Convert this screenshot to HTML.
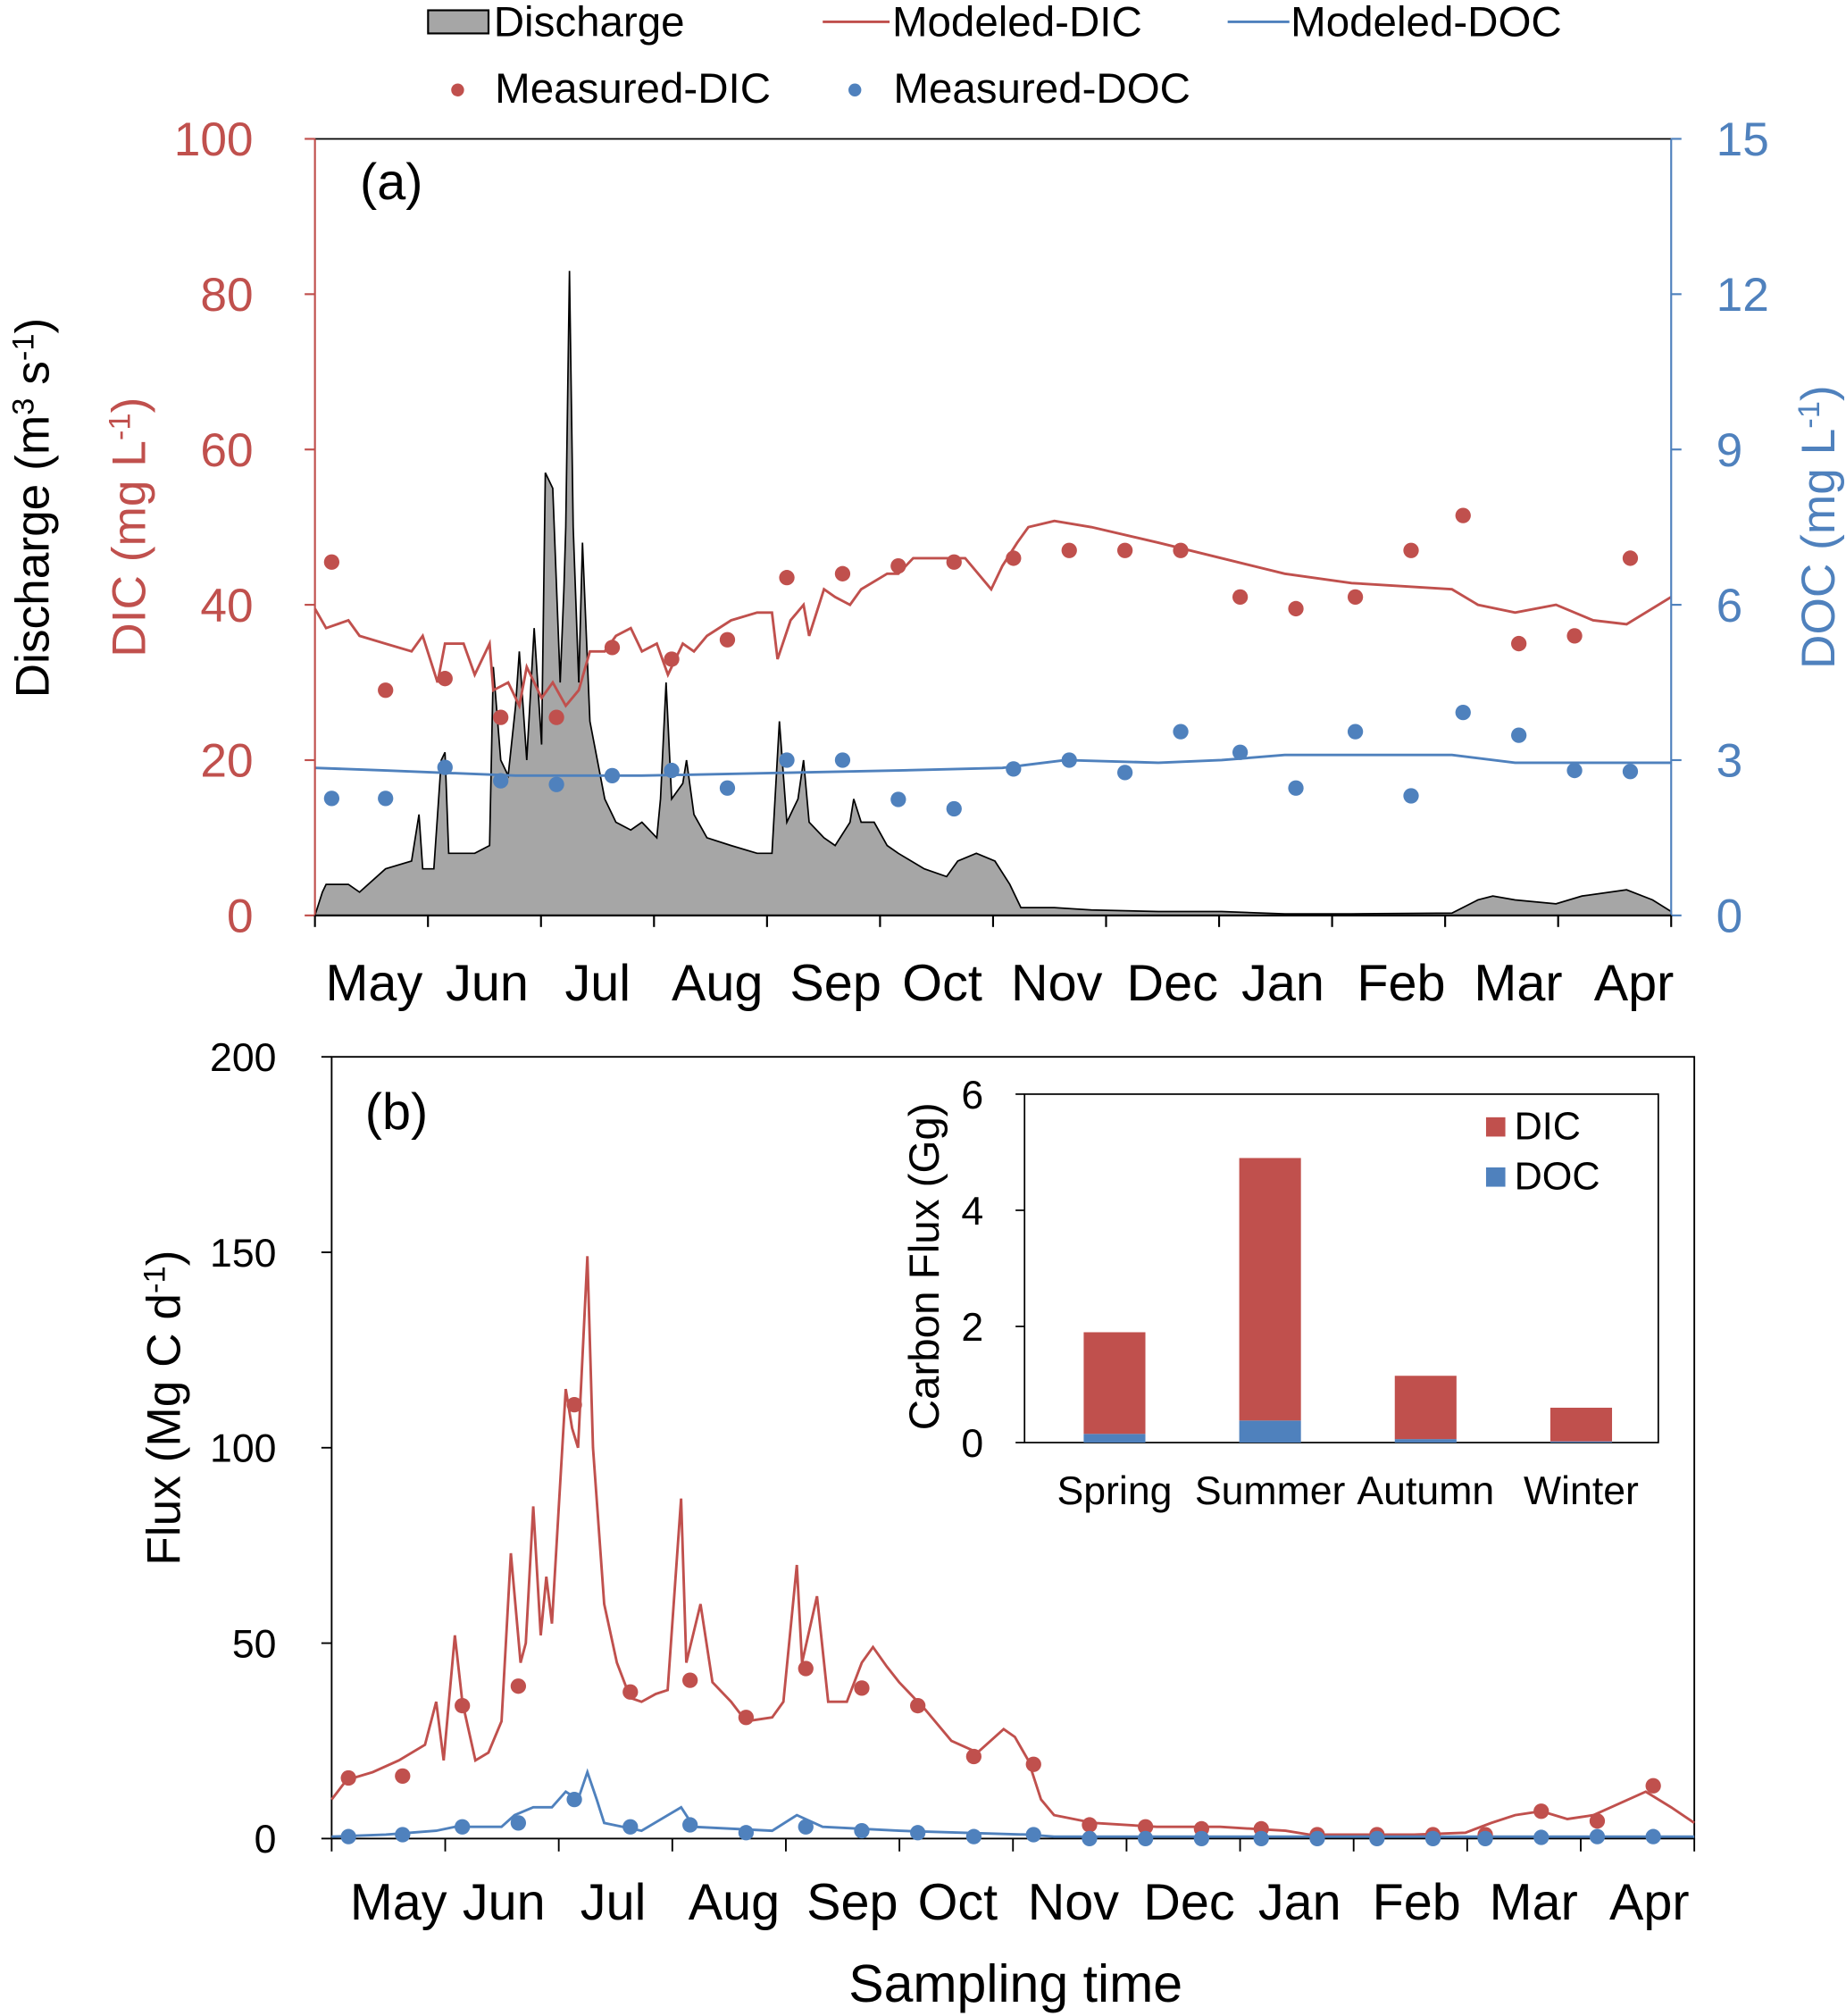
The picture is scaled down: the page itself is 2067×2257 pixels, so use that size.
<!DOCTYPE html>
<html><head><meta charset="utf-8"><style>
html,body{margin:0;padding:0;background:#fff}
svg{display:block}
text{font-family:"Liberation Sans",Arial,sans-serif}
</style></head><body>
<svg id="chart" width="2067" height="2257" viewBox="0 0 1436 1568" xmlns="http://www.w3.org/2000/svg">
<g id="legend">
 <g><rect x="333" y="8" width="47" height="18" fill="#a6a6a6" stroke="#000" stroke-width="1.5"/><text x="384" y="28" font-size="33">Discharge</text></g>
 <g><line x1="640" y1="17" x2="692" y2="17" stroke="#c0504d" stroke-width="2"/><text x="694" y="28" font-size="33">Modeled-DIC</text></g>
 <g><line x1="955" y1="17" x2="1003" y2="17" stroke="#4f81bd" stroke-width="2"/><text x="1004" y="28" font-size="33">Modeled-DOC</text></g>
 <g><circle cx="356" cy="70" r="5" fill="#c0504d"/><text x="385" y="80" font-size="33">Measured-DIC</text></g>
 <g><circle cx="665" cy="70" r="5" fill="#4f81bd"/><text x="695" y="80" font-size="33">Measured-DOC</text></g>
</g>
<g id="pa"></g>
<g id="pb"></g>
<g id="inset"></g>
</svg>
<script>
const months=["May","Jun","Jul","Aug","Sep","Oct","Nov","Dec","Jan","Feb","Mar","Apr"];
const monthLabelPosA=[291,379,465,558,650,733,822,912,998,1090,1181,1271];
const monthLabelPosB=[310,392,477,571,663,745,835,925,1011,1102,1193,1283];
const dicTicks=[0,20,40,60,80,100];
const docTicks=[0,3,6,9,12,15];
const fluxTicks=[0,50,100,150,200];
const dischargeDays=[0,2,3,9,12,19,26,28,29,32,34,35,36,43,47,48,50,52,54,55,57,59,61,62,64,66,67,67.5,68.5,69.5,71,72,74,76,78,81,85,88,92,93,94.5,96,99,100,102,105.5,112,119,123,125,127,130,131.5,133,137,140,144,145,147,150.5,154,157,164,170,173,178,183,187,190,199,209,227,244,261,279,306,313,317,323,334,341,353,360,365];
const dischargeVals=[0,3,4,4,3,6,7,13,6,6,20,21,8,8,9,32,20,18,27,34,20,37,22,57,55,30,42,50,83,50,30,48,25,20,15,12,11,12,10,15,30,15,17,20,13,10,9,8,8,25,12,15,20,12,10,9,12,15,12,12,9,8,6,5,7,8,7,4,1,1,0.7,0.5,0.5,0.2,0.2,0.3,2,2.5,2,1.5,2.5,3.3,2,0.5];
const modDicDays=[0,3,9,12,19,26,29,33,35,40,43,47,48,52,55,57,61,64,67.5,71,74,78,81,85,88,92,95,99,102,105.5,112,119,123,124.5,128,131.5,133,137,140,144,147,154,157,161,164,171,175,182,185,189,192,199,209,227,244,261,279,306,313,323,334,344,353,365];
const modDicVals=[39.5,37,38,36,35,34,36,30,35,35,31,35,29,30,27,32,28,30,27,29,34,34,36,37,34,35,31,35,34,36,38,39,39,33,38,40,36,42,41,40,42,44,44,46,46,46,46,42,45,48,50,50.8,50,48,46,44,42.8,42,40,39,40,38,37.5,41];
const modDocDays=[0,19,54,88,123,157,185,202,227,244,261,306,323,347,365];
const modDocVals=[2.85,2.8,2.7,2.7,2.75,2.8,2.85,3.0,2.95,3.0,3.1,3.1,2.95,2.95,2.95];
const sampleDays=[4.5,19,35,50,65,80,96,111,127,142,157,172,188,203,218,233,249,264,280,295,309,324,339,354];
const measDic=[45.5,29,30.5,25.5,25.5,34.5,33,35.5,43.5,44,45,45.5,46,47,47,47,41,39.5,41,47,51.5,35,36,46];
const measDoc=[2.26,2.26,2.86,2.6,2.53,2.7,2.8,2.46,3.0,3.0,2.24,2.06,2.83,3.0,2.76,3.55,3.15,2.46,3.55,2.31,3.92,3.48,2.8,2.78];
const dicFluxDays=[0,4,11,18,25,28,30,33,35,38.5,42,45.5,48,50.6,52,54,56,57.5,59,62.7,64.4,66,68.5,70,73,76.4,80,83,86.8,90,93.6,95,98.8,102,107,111,118,121,124.6,126,130,133,138,142,145,148.7,152,159,166,173,180,183,186.6,190,193.5,204,221,238,255.5,262,290,303.7,310.6,317,324,331,338,352,358.8,365];
const dicFluxVals=[10,15,17,20,24,35,20,52,35,20,22,30,73,45,50,85,52,67,55,115,105,100,149,100,60,45,36,35,37,38,87,45,60,40,35,30,31,35,70,45,62,35,35,45,49,44,40,33,25,22,28,26,20,10,6,4,3,3,2,1,1,1.5,4,6,7,5,6,12,8,4];
const docFluxDays=[0,14.5,28,33,45.5,49,54,59,62.7,66,68.5,71,73,83,93.6,97,118,124.6,131.5,152,186.6,193.5,365];
const docFluxVals=[0.5,1,2,3,3,6,8,8,12,10,17,10,4,2,8,3,2,6,3,2,1,0.5,0.5];
const measDicFlux=[15.5,16,34,39,111,37.5,40.5,31,43.5,38.5,34,21,19,3.5,3,2.5,2.5,1,1,1,1,7,4.5,13.5];
const measDocFlux=[0.5,1,3,4,10,3,3.5,1.5,3,2,1.5,0.5,1,0,0,0,0,0,0,0,0,0.3,0.5,0.5];
const seasons=["Spring","Summer","Autumn","Winter"];
const seasonDic=[1.75,4.52,1.09,0.58];
const seasonDoc=[0.15,0.38,0.06,0.02];
const insetTicks=[0,2,4,6];

const NS="http://www.w3.org/2000/svg";
function mk(p,tag,a,txt){const e=document.createElementNS(NS,tag);for(const k in a)e.setAttribute(k,a[k]);if(txt!==undefined)e.textContent=txt;p.appendChild(e);return e;}
const RED="#c0504d",BLUE="#4f81bd";

// Panel A
const pa=document.getElementById('pa');
const aX=d=>245+d/365*1055, aY=v=>712-v/100*604, aY2=v=>712-v/15*604;
let dp="M"+aX(0)+","+aY(0);
dischargeDays.forEach((d,i)=>dp+=" L"+aX(d)+","+aY(dischargeVals[i]));
dp+=" L"+aX(365)+","+aY(0)+" Z";
let area=mk(pa,'path',{d:dp,fill:"#a6a6a6",stroke:"#000","stroke-width":1.2});


let l1=mk(pa,'polyline',{points:modDicDays.map((d,i)=>aX(d)+","+aY(modDicVals[i])).join(" "),fill:"none",stroke:RED,"stroke-width":2});


let l2=mk(pa,'polyline',{points:modDocDays.map((d,i)=>aX(d)+","+aY2(modDocVals[i])).join(" "),fill:"none",stroke:BLUE,"stroke-width":2});


sampleDays.forEach((d,i)=>{
 let c=mk(pa,'circle',{cx:aX(d),cy:aY(measDic[i]),r:6,fill:RED});
 
 
 let c2=mk(pa,'circle',{cx:aX(d),cy:aY2(measDoc[i]),r:6,fill:BLUE});
 
 
});
mk(pa,'line',{x1:245,y1:108,x2:1300,y2:108,stroke:"#000","stroke-width":1.2});
mk(pa,'line',{x1:245,y1:108,x2:245,y2:712,stroke:RED,"stroke-width":1.5});
mk(pa,'line',{x1:1300,y1:108,x2:1300,y2:712,stroke:BLUE,"stroke-width":1.5});
mk(pa,'line',{x1:245,y1:712,x2:1300,y2:712,stroke:"#000","stroke-width":1.5});
dicTicks.forEach(v=>{mk(pa,'line',{x1:237,y1:aY(v),x2:245,y2:aY(v),stroke:RED,"stroke-width":1.5});
 let t=mk(pa,'text',{x:197,y:aY(v)+13,"font-size":37,fill:RED,"text-anchor":"end"},v);
 });
docTicks.forEach(v=>{mk(pa,'line',{x1:1300,y1:aY2(v),x2:1308,y2:aY2(v),stroke:BLUE,"stroke-width":1.5});
 let t=mk(pa,'text',{x:1335,y:aY2(v)+13,"font-size":37,fill:BLUE},v);
 });
for(let m=0;m<=12;m++){const x=245+m*1055/12;mk(pa,'line',{x1:x,y1:712,x2:x,y2:721,stroke:"#000","stroke-width":1.5});}
months.forEach((m,i)=>{let t=mk(pa,'text',{x:monthLabelPosA[i],y:778,"font-size":40,"text-anchor":"middle"},m);
 });
mk(pa,'text',{x:280,y:155,"font-size":40},"(a)");
let ty=mk(pa,'text',{transform:"translate(38,395) rotate(-90)","font-size":37,"text-anchor":"middle"});
ty.innerHTML='Discharge (m<tspan dy="-12" font-size="24">3</tspan><tspan dy="12"> s</tspan><tspan dy="-12" font-size="24">-1</tspan><tspan dy="12">)</tspan>';

let ty2=mk(pa,'text',{transform:"translate(113,410) rotate(-90)","font-size":37,"text-anchor":"middle",fill:RED});
ty2.innerHTML='DIC (mg L<tspan dy="-12" font-size="24">-1</tspan><tspan dy="12">)</tspan>';

let ty3=mk(pa,'text',{transform:"translate(1427,410) rotate(-90)","font-size":37,"text-anchor":"middle",fill:BLUE});
ty3.innerHTML='DOC (mg L<tspan dy="-12" font-size="24">-1</tspan><tspan dy="12">)</tspan>';


// Panel B
const pb=document.getElementById('pb');
const bX=d=>258+d/365*1060, bY=v=>1430-v/200*608;
mk(pb,'rect',{x:258,y:822,width:1060,height:608,fill:"none",stroke:"#000","stroke-width":1.3});
fluxTicks.forEach(v=>{mk(pb,'line',{x1:250,y1:bY(v),x2:258,y2:bY(v),stroke:"#000","stroke-width":1.3});
 let t=mk(pb,'text',{x:215,y:bY(v)+11,"font-size":31,"text-anchor":"end"},v);
 });
for(let m=0;m<=12;m++){const x=258+m*1060/12;mk(pb,'line',{x1:x,y1:1430,x2:x,y2:1440,stroke:"#000","stroke-width":1.3});}
months.forEach((m,i)=>{let t=mk(pb,'text',{x:monthLabelPosB[i],y:1493,"font-size":40,"text-anchor":"middle"},m);
 });
let f1=mk(pb,'polyline',{points:dicFluxDays.map((d,i)=>bX(d)+","+bY(dicFluxVals[i])).join(" "),fill:"none",stroke:RED,"stroke-width":2});

let f2=mk(pb,'polyline',{points:docFluxDays.map((d,i)=>bX(d)+","+bY(docFluxVals[i])).join(" "),fill:"none",stroke:BLUE,"stroke-width":2});

sampleDays.forEach((d,i)=>{
 let c=mk(pb,'circle',{cx:bX(d),cy:bY(measDicFlux[i]),r:6,fill:RED});
 
 let c2=mk(pb,'circle',{cx:bX(d),cy:bY(measDocFlux[i]),r:6,fill:BLUE});
 
});
mk(pb,'text',{x:284,y:878,"font-size":40},"(b)");
let fy=mk(pb,'text',{transform:"translate(140,1095) rotate(-90)","font-size":37,"text-anchor":"middle"});
fy.innerHTML='Flux (Mg C d<tspan dy="-12" font-size="24">-1</tspan><tspan dy="12">)</tspan>';

let xt=mk(pb,'text',{x:790,y:1557,"font-size":41,"text-anchor":"middle"},"Sampling time");


// Inset
const ins=document.getElementById('inset');
const iY=v=>1122-v/6*271;
mk(ins,'rect',{x:797,y:851,width:493,height:271,fill:"#fff",stroke:"#000","stroke-width":1.2});
insetTicks.forEach(v=>{mk(ins,'line',{x1:790,y1:iY(v),x2:797,y2:iY(v),stroke:"#000","stroke-width":1.2});
 let t=mk(ins,'text',{x:765,y:iY(v)+11,"font-size":31,"text-anchor":"end"},v);
 });
seasons.forEach((s,i)=>{const cx=867+i*121;
 let b1=mk(ins,'rect',{x:cx-24,y:iY(seasonDoc[i]),width:48,height:iY(0)-iY(seasonDoc[i]),fill:BLUE});
 
 let b2=mk(ins,'rect',{x:cx-24,y:iY(seasonDoc[i]+seasonDic[i]),width:48,height:iY(seasonDoc[i])-iY(seasonDoc[i]+seasonDic[i]),fill:RED});
 
 let t=mk(ins,'text',{x:cx,y:1170,"font-size":31,"text-anchor":"middle"},s);
 });
let it=mk(ins,'text',{transform:"translate(730,985) rotate(-90)","font-size":33,"text-anchor":"middle"},"Carbon Flux (Gg)");

mk(ins,'rect',{x:1156,y:869,width:15,height:15,fill:RED});
mk(ins,'text',{x:1178,y:886,"font-size":30},"DIC");
mk(ins,'rect',{x:1156,y:908,width:15,height:15,fill:BLUE});
mk(ins,'text',{x:1178,y:925,"font-size":30},"DOC");
</script>
</body></html>
